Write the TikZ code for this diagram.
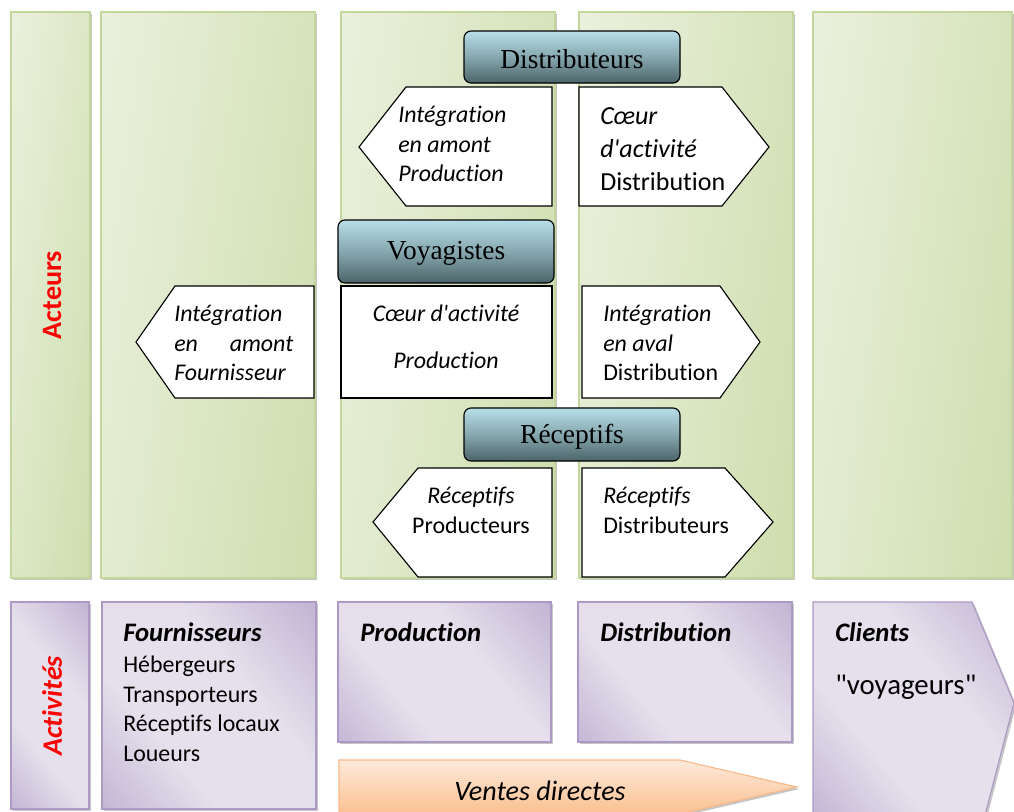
\documentclass[tikz,border=0pt]{standalone}
\usepackage{fontspec}
\setmainfont[Ligatures=NoCommon]{Carlito}
\newfontfamily\serifhead{Liberation Serif}
\usepackage{tikz}
\usetikzlibrary{positioning, shadows}

\definecolor{grLight}{HTML}{EBF1DE}
\definecolor{grMid}{HTML}{D9E5C1}
\definecolor{grDark}{HTML}{C3D69B}
\definecolor{liLight}{HTML}{E5E0EC}
\definecolor{liDark}{HTML}{AC9AC4}
\definecolor{blTop}{HTML}{B7DEE8}
\definecolor{blBot}{HTML}{4B6469}
\definecolor{orLight}{HTML}{FDEADB}
\definecolor{orDark}{HTML}{FAC090}
\definecolor{orLine}{HTML}{F9B98A}

\pgfdeclarehorizontalshading{greencol}{100bp}{color(0bp)=(grMid); color(20bp)=(grLight); color(45bp)=(grLight!70!grDark); color(100bp)=(grDark)}
\pgfdeclarehorizontalshading{lilac}{100bp}{color(0bp)=(liDark); color(36bp)=(liLight); color(60bp)=(liLight); color(100bp)=(liDark)}

\newcommand\apos{\textquotesingle}

\begin{document}
\begin{tikzpicture}[x=0.025cm, y=-0.025cm,
  column/.style={draw=grDark, line width=0.8pt, shading=greencol, shading angle=-8,
    drop shadow={shadow xshift=1.5pt, shadow yshift=-1.5pt, fill=black!45, opacity=0.5}},
  lilacbox/.style={draw=liDark, line width=0.8pt, shading=lilac, shading angle=40,
    drop shadow={shadow xshift=1.5pt, shadow yshift=-1.5pt, fill=black!45, opacity=0.5}},
  header/.style={draw=black, line width=0.8pt, rounded corners=5pt, top color=blTop, bottom color=blBot,
    middle color=blTop!55!blBot},
  plate/.style={draw=black, line width=0.8pt, fill=white},
  txt/.style={anchor=north west, inner sep=0pt, align=left, font=\fontsize{17}{20.9}\selectfont},
  headtxt/.style={inner sep=0pt, font=\serifhead\fontsize{19.5}{22}\selectfont},
  title/.style={anchor=north west, inner sep=0pt, font=\fontsize{19}{22}\selectfont\bfseries\itshape},
  side/.style={inner sep=0pt, rotate=90, text=red, font=\fontsize{20}{22}\selectfont\bfseries}]

\clip (0,0) rectangle (1014,811);

% acteurs columns
\path[column] (11,12) rectangle (90,578);
\path[column] (101,12) rectangle (315,578);
\path[column] (341,12) rectangle (555,578);
\path[column] (579,12) rectangle (793,578);
\path[column] (813,12) rectangle (1012,578);

% activites row
\path[lilacbox] (11,602) rectangle (89,809);
\path[lilacbox] (102,602) rectangle (316,809);
\path[lilacbox] (338,602) rectangle (551,742);
\path[lilacbox] (578,602) rectangle (792,742);
\path[lilacbox] (813,602) -- (972,602) -- (1014,703) -- (985,815) -- (813,815) -- cycle;

% ventes directes
\path[draw=orLine, line width=0.8pt, top color=orLight, bottom color=orDark,
  drop shadow={shadow xshift=1.5pt, shadow yshift=-1.5pt, fill=black!45, opacity=0.5}]
  (339,760) -- (680,760) -- (797,787) -- (680,814) -- (339,814) -- cycle;

% white plates
\path[plate] (359,147) -- (406,87) -- (552,87) -- (552,206) -- (406,206) -- cycle;
\path[plate] (579,87) -- (722,87) -- (769,147) -- (722,206) -- (579,206) -- cycle;
\path[plate] (136,342) -- (175,286) -- (314,286) -- (314,398) -- (175,398) -- cycle;
\path[plate] (341,286) rectangle (552,398);
\path[plate] (582,286) -- (720,286) -- (760,342) -- (720,398) -- (582,398) -- cycle;
\path[plate] (373,522) -- (418,468) -- (552,468) -- (552,577) -- (418,577) -- cycle;
\path[plate] (582,468) -- (725,468) -- (773,522) -- (725,577) -- (582,577) -- cycle;

% blue headers
\path[header] (464,31) rectangle (680,83);
\path[header] (338,220) rectangle (554,283);
\path[header] (464,408) rectangle (680,461);
\node[headtxt] (distrib) at (572,59) {Distributeurs};
\node[headtxt] (voyag) at (446,253) {Voyagistes};
\node[headtxt] (recept) at (572,437) {Réceptifs};

% texts in the plates
\node[txt] (amontprod) at (398,106) {\itshape Intégration\\\itshape en amont\\\itshape Production};
\node[txt, font=\fontsize{18.5}{23.6}\selectfont] (coeurdist) at (600,107) {\itshape Cœur\\\itshape d\apos activité\\Distribution};
\node[txt, text width=2.975cm] (amontfour) at (174,305) {\itshape Intégration\\\itshape en\hfill amont\\\itshape Fournisseur};
\node[txt, anchor=north, align=center] (coeurprod) at (446,305) {\itshape Cœur d\apos activité\\[12pt]\itshape Production};
\node[txt] (aval) at (603,305) {\itshape Intégration\\\itshape en aval\\Distribution};
\node[txt, anchor=north, align=center] (receprod) at (471,487) {\itshape Réceptifs\\Producteurs};
\node[txt] (recedist) at (603,487) {\itshape Réceptifs\\Distributeurs};

% side labels
\node[side] (acteurs) at (52,295) {Acteurs};
\node[side, font=\fontsize{20}{22}\selectfont\bfseries\itshape] (activ) at (52,706) {Activités};

% activites texts
\node[title] (four) at (123,622) {Fournisseurs};
\node[txt] (fourlist) at (123,656) {Hébergeurs\\Transporteurs\\Réceptifs locaux\\Loueurs};
\node[title] (prod) at (360,622) {Production};
\node[title] (dist) at (600,622) {Distribution};
\node[title] (clients) at (835,622) {Clients};
\node[txt, font=\fontsize{20.5}{24}\selectfont] (voyageurs) at (835,675) {\textquotedbl voyageurs\textquotedbl};
\node[inner sep=0pt, font=\fontsize{20}{22}\selectfont\itshape] (ventes) at (540,791) {Ventes directes};

\end{tikzpicture}
\end{document}
